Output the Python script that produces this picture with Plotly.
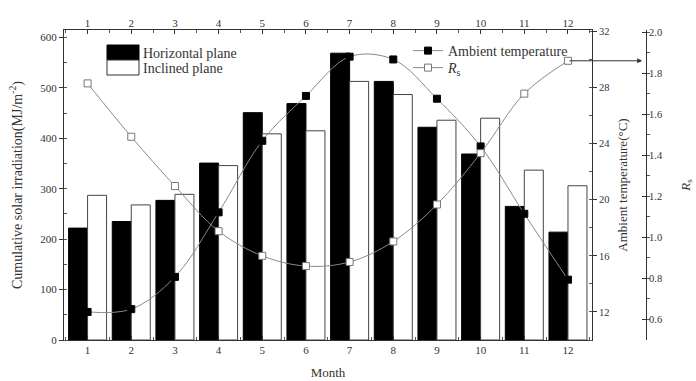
import plotly.graph_objects as go

months = list(range(1, 13))
month_labels = [str(m) for m in months]
horizontal = [222, 235, 277, 351, 451, 469, 569, 513, 422, 369, 265, 214]
inclined = [287, 268, 289, 346, 409, 415, 513, 487, 436, 440, 337, 306]
ambient_temp = [12.0, 12.2, 14.5, 19.1, 24.2, 27.4, 30.2, 30.0, 27.2, 23.8, 19.0, 14.3]
rs = [1.75, 1.49, 1.25, 1.03, 0.91, 0.86, 0.88, 0.98, 1.16, 1.41, 1.70, 1.86]

FONT = "Liberation Serif"
TXT = "#333333"

W, H = 696, 381
ML, MR, MT, MB = 64, 50, 30, 41
PW = W - ML - MR
PH = H - MT - MB
XDOM = (592 - ML) / PW


def px(x):
    return (x - ML) / PW


def py(y):
    return (H - MB - y) / PH


fig = go.Figure()
fig.add_trace(go.Bar(x=months, y=horizontal, name="Horizontal plane",
                     marker=dict(color="black", line=dict(color="black", width=1)),
                     showlegend=False, xaxis="x", yaxis="y"))
fig.add_trace(go.Bar(x=months, y=inclined, name="Inclined plane",
                     marker=dict(color="white", line=dict(color="#444444", width=1)),
                     showlegend=False, xaxis="x", yaxis="y"))
# invisible helper so the top month axis is drawn
fig.add_trace(go.Scatter(x=months, y=horizontal, mode="markers", marker=dict(opacity=0),
                         showlegend=False, hoverinfo="skip", xaxis="x2", yaxis="y"))
fig.add_trace(go.Scatter(x=months, y=ambient_temp, name="Ambient temperature",
                         mode="lines+markers", line=dict(color="#8a8a8a", width=1, shape="spline"),
                         marker=dict(symbol="square", size=7, color="black",
                                     line=dict(color="black", width=1)),
                         xaxis="x", yaxis="y2", legend="legend"))
fig.add_trace(go.Scatter(x=months, y=rs, name="<i>R</i><sub>s</sub>",
                         mode="lines+markers", line=dict(color="#8a8a8a", width=1, shape="spline"),
                         marker=dict(symbol="square", size=7, color="white",
                                     line=dict(color="#777777", width=1)),
                         xaxis="x", yaxis="y3", legend="legend2"))

tickfont = dict(family=FONT, size=11, color=TXT)
tickfont_r = dict(family=FONT, size=10.5, color=TXT)
fig.update_layout(
    width=W, height=H,
    margin=dict(l=ML, r=MR, t=MT, b=MB, autoexpand=False),
    paper_bgcolor="white", plot_bgcolor="white",
    barmode="group", bargap=0.13, bargroupgap=0,
    font=dict(family=FONT, color=TXT),
    xaxis=dict(domain=[0, XDOM], range=[0.46, 12.55], tickmode="array", automargin=False,
               tickvals=months, ticktext=month_labels, ticks="inside", ticklen=4,
               tickcolor="#333", showline=True, linecolor="#333", linewidth=1,
               mirror=True, showgrid=False, zeroline=False, tickfont=tickfont,
               minor=dict(ticks="inside", ticklen=3, dtick=0.5, tick0=0.5, tickcolor="#555"),
               title=dict(text="Month", font=dict(family=FONT, size=13, color=TXT), standoff=12)),
    xaxis2=dict(domain=[0, XDOM], range=[0.46, 12.55], overlaying="x", side="top",
                anchor="y", tickmode="array", tickvals=months, ticktext=month_labels,
                automargin=False,
                ticks="inside", ticklen=4, tickcolor="#333", showgrid=False,
                zeroline=False, showline=False, tickfont=tickfont,
                minor=dict(ticks="inside", ticklen=3, dtick=0.5, tick0=0.5, tickcolor="#555")),
    yaxis=dict(range=[0, 615], dtick=100, ticks="outside", ticklen=4, tickcolor="#333",
               automargin=False,
               showline=True, linecolor="#333", linewidth=1, showgrid=False, zeroline=False,
               tickfont=tickfont,
               minor=dict(ticks="inside", ticklen=3, dtick=50, tickcolor="#555"),
               title=dict(text="Cumulative solar irradiation(MJ/m<sup>-2</sup>)",
                          font=dict(family=FONT, size=14, color=TXT), standoff=14)),
    yaxis2=dict(range=[10, 32.1], tickvals=[12, 16, 20, 24, 28, 32], overlaying="y",
                side="right", anchor="x", ticks="outside", ticklen=4, tickcolor="#333",
                automargin=False,
                showline=True, linecolor="#333", linewidth=1, showgrid=False,
                zeroline=False, tickfont=tickfont_r,
                minor=dict(ticks="inside", ticklen=3, dtick=2, tickcolor="#555"),
                title=dict(text="Ambient temperature(°C)",
                           font=dict(family=FONT, size=13, color=TXT), standoff=8)),
    yaxis3=dict(range=[0.5, 2.01], dtick=0.2, tick0=0, tickformat=".1f", overlaying="y",
                side="right", anchor="free", position=1.0, ticks="inside", ticklen=4,
                automargin=False,
                tickcolor="#333", showline=True, linecolor="#333", linewidth=1,
                showgrid=False, zeroline=False, tickfont=tickfont_r,
                minor=dict(ticks="outside", ticklen=3, dtick=0.1, tickcolor="#555"),
                title=dict(text="<i>R</i><sub>s</sub>", font=dict(family=FONT, size=13, color=TXT),
                           standoff=18)),
    legend=dict(x=px(408), y=py(51), xanchor="left", yanchor="middle",
                bgcolor="rgba(0,0,0,0)", font=dict(family=FONT, size=14, color=TXT),
                itemwidth=30),
    legend2=dict(x=px(408), y=py(68), xanchor="left", yanchor="middle",
                 bgcolor="rgba(0,0,0,0)", font=dict(family=FONT, size=14, color=TXT),
                 itemwidth=30),
    shapes=[
        dict(type="rect", xref="paper", yref="paper", x0=px(107), x1=px(139),
             y0=py(60), y1=py(45), fillcolor="black", line=dict(color="black", width=1)),
        dict(type="rect", xref="paper", yref="paper", x0=px(107), x1=px(139),
             y0=py(75), y1=py(60), fillcolor="white", line=dict(color="#333", width=1)),
    ],
    annotations=[
        dict(text="Horizontal plane", xref="paper", yref="paper", x=px(141), y=py(53),
             xanchor="left", yanchor="middle", showarrow=False,
             font=dict(family=FONT, size=14, color=TXT)),
        dict(text="Inclined plane", xref="paper", yref="paper", x=px(141), y=py(68),
             xanchor="left", yanchor="middle", showarrow=False,
             font=dict(family=FONT, size=14, color=TXT)),
        dict(text="", x=13.7, y=rs[-1], xref="x", yref="y3", ax=months[-1], ay=rs[-1],
             axref="x", ayref="y3", showarrow=True, arrowhead=2, arrowsize=1,
             arrowwidth=1, arrowcolor="#333"),
    ],
)

fig.write_html("out.html", config={"displayModeBar": False},
               post_script="document.body.style.margin='0';document.body.style.overflow='hidden';")
